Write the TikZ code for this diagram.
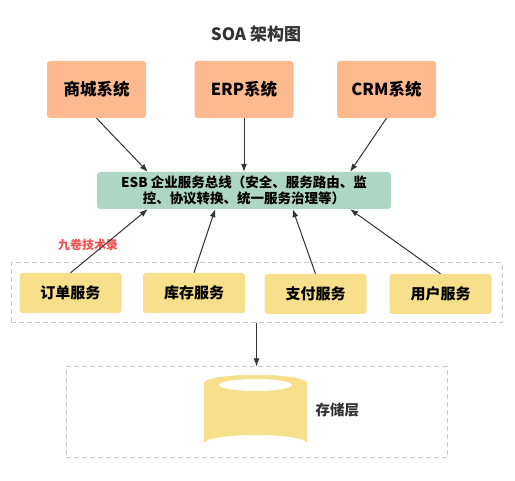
\documentclass[tikz,border=0pt]{standalone}
\usepackage{fontspec}
\setmainfont{Noto Sans CJK SC}
\usetikzlibrary{arrows.meta}
\definecolor{SysOrange}{HTML}{FFB98E}
\definecolor{BusGreen}{HTML}{AED6C4}
\definecolor{SvcYellow}{HTML}{F8DF8B}
\definecolor{LineGray}{HTML}{333333}
\definecolor{DashGray}{HTML}{C8C8C8}
\definecolor{MarkRed}{HTML}{F05252}

\begin{document}
\begin{tikzpicture}[x=1pt,y=-1pt,
  sysbox/.style={fill=SysOrange,rounded corners=3pt,minimum width=99pt,minimum height=57pt,font=\fontsize{16.5}{18}\selectfont\bfseries},
  svcbox/.style={fill=SvcYellow,rounded corners=3pt,minimum width=102pt,minimum height=40pt,font=\fontsize{15}{17}\selectfont\bfseries},
  layerbox/.style={draw=DashGray,dash pattern=on 5pt off 3pt,line width=1pt},
  flow/.style={draw=LineGray,line width=1pt,-{Latex[length=8pt,width=6pt]}}]
\useasboundingbox (0,0) rectangle (515,481);
\node[text=LineGray,font=\fontsize{17}{20}\selectfont\bfseries] (title) at (256,34) {SOA 架构图};
\node[sysbox] (mall) at (96.5,89.5) {商城系统};
\node[sysbox] (erp) at (244,89.5) {ERP系统};
\node[sysbox] (crm) at (386.5,89.5) {CRM系统};
\node[fill=BusGreen,rounded corners=3pt,minimum width=294pt,minimum height=37pt,align=center,font=\fontsize{13.5}{16.5}\selectfont\bfseries] (esb) at (244,190.5) {ESB 企业服务总线（安全、服务路由、监\\控、协议转换、统一服务治理等）};
\node[layerbox,minimum width=491pt,minimum height=60pt] (svclayer) at (256.5,293) {};
\node[svcbox] (order) at (70.5,293) {订单服务};
\node[svcbox] (stock) at (194,293) {库存服务};
\node[svcbox] (pay) at (315.5,294) {支付服务};
\node[svcbox] (user) at (440.5,294) {用户服务};
\node[text=MarkRed,font=\fontsize{12}{14}\selectfont\bfseries] (mark) at (88,245) {九卷技术录};
\node[layerbox,minimum width=381pt,minimum height=91pt] (storelayer) at (256.5,412.5) {};
\fill[SvcYellow] (204,383) arc[start angle=180,end angle=360,x radius=51.5pt,y radius=-8pt] -- (307,443) arc[start angle=0,end angle=-180,x radius=51.5pt,y radius=-8pt] -- cycle;
\fill[SvcYellow] (255.5,383) ellipse[x radius=51.5pt,y radius=8pt];
\fill[white] (255.5,385) ellipse[x radius=36.5pt,y radius=6pt];
\node[text=LineGray,font=\fontsize{14.5}{17}\selectfont\bfseries,anchor=west] (store) at (312,410) {存储层};
\draw[flow] (mall.south) -- (esb.169);
\draw[flow] (erp.south) -- (esb.north);
\draw[flow] (crm.south) -- (esb.10);
\draw[flow] (order.north) -- (esb.191.5);
\draw[flow] (stock.north) -- (esb.213.5);
\draw[flow] (pay.north) -- (esb.339.3);
\draw[flow] (user.north) -- (esb.350.6);
\draw[flow] (svclayer.south) -- (storelayer.north);
\end{tikzpicture}
\end{document}
